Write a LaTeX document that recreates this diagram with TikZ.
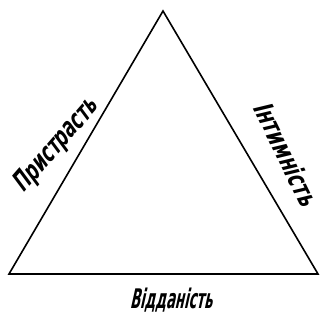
\documentclass[tikz,border=0pt]{standalone}
\usepackage{fontspec}
\newfontfamily\heavyfont{DejaVu Sans}
\tikzset{
  edge/.style ={line width=1.6pt,line join=miter},
  side/.style ={font=\heavyfont\bfseries\fontsize{27}{29}\selectfont,inner sep=0pt,xslant=0.22}
}
\begin{document}
\begin{tikzpicture}[x=1pt,y=-1pt]
  \useasboundingbox (0,0) rectangle (323,320);
  \coordinate (top) at (163,11);
  \coordinate (left) at (9,274);
  \coordinate (right) at (318,274);
  \draw[edge] (top) -- (right) -- (left) -- cycle;
  \node[rotate=49,side,xscale=0.64] (passion) at (57,145) {Пристрасть};
  \node[rotate=-64,side,xscale=0.69] (intimacy) at (287,155) {Інтимність};
  \node[side,xscale=0.49,anchor=base] (commitment) at (171,308) {Відданість};
\end{tikzpicture}
\end{document}
